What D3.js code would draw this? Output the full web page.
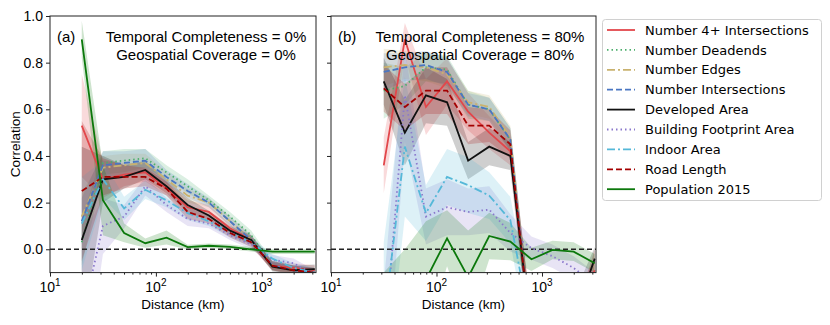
<!DOCTYPE html>
<html>
<head>
<meta charset="utf-8">
<script src="https://cdn.jsdelivr.net/npm/d3@7"></script>
<style>
  body { margin: 0; background: #fff; }
  svg { display: block; font-family: "Liberation Sans", Arial, sans-serif; }
</style>
</head>
<body>
<div id="chart"></div>
<script>
// distance bins (km)
var distances = [19.95, 31.62, 50.12, 79.43, 125.9, 199.5, 316.2, 501.2, 794.3, 1259, 1995, 3162];

var seriesNames = ["Number 4+ Intersections", "Number Deadends", "Number Edges", "Number Intersections",
  "Developed Area", "Building Footprint Area", "Indoor Area", "Road Length", "Population 2015"];

// panel (a): temporal completeness 0%, geospatial coverage 0%
var aNum4      = [0.53, 0.30, 0.32, 0.33, 0.26, 0.18, 0.16, 0.09, 0.04, -0.07, -0.08, -0.09];
var aDeadends  = [0.03, 0.37, 0.38, 0.39, 0.33, 0.27, 0.21, 0.14, 0.06, -0.07, -0.09, -0.10];
var aEdges     = [0.14, 0.35, 0.36, 0.37, 0.30, 0.23, 0.20, 0.12, 0.04, -0.07, -0.09, -0.10];
var aInters    = [0.12, 0.36, 0.37, 0.38, 0.31, 0.25, 0.20, 0.12, 0.04, -0.07, -0.09, -0.10];
var aDeveloped = [0.04, 0.30, 0.31, 0.34, 0.27, 0.19, 0.145, 0.08, 0.04, -0.075, -0.09, -0.085];
var aBuilding  = [-0.30, 0.10, 0.14, 0.27, 0.19, 0.13, 0.11, 0.06, 0.02, -0.045, -0.06, -0.11];
var aIndoor    = [0.11, 0.30, 0.175, 0.255, 0.21, 0.155, 0.12, 0.07, 0.03, -0.04, -0.08, -0.10];
var aRoad      = [0.25, 0.31, 0.31, 0.31, 0.26, 0.16, 0.13, 0.07, 0.03, -0.07, -0.09, -0.10];
var aPop       = [0.90, 0.21, 0.07, 0.026, 0.05, 0.009, 0.015, 0.01, 0.0, -0.01, -0.01, -0.01];

var aNum4Err      = [0.22, 0.08, 0.05, 0.04, 0.03, 0.03, 0.03, 0.02, 0.02, 0.02, 0.02, 0.02];
var aDeadendsErr  = [0.10, 0.05, 0.05, 0.04, 0.03, 0.03, 0.02, 0.02, 0.02, 0.02, 0.02, 0.02];
var aEdgesErr     = [0.10, 0.05, 0.05, 0.04, 0.03, 0.03, 0.02, 0.02, 0.02, 0.02, 0.02, 0.02];
var aIntersErr    = [0.10, 0.06, 0.05, 0.05, 0.03, 0.03, 0.02, 0.02, 0.02, 0.02, 0.02, 0.02];
var aDevelopedErr = [0.40, 0.10, 0.05, 0.04, 0.03, 0.03, 0.02, 0.02, 0.02, 0.02, 0.02, 0.02];
var aBuildingErr  = [0.35, 0.12, 0.05, 0.04, 0.03, 0.03, 0.02, 0.02, 0.02, 0.02, 0.02, 0.02];
var aIndoorErr    = [0.20, 0.08, 0.05, 0.04, 0.03, 0.03, 0.02, 0.02, 0.02, 0.02, 0.02, 0.02];
var aRoadErr      = [0.30, 0.08, 0.05, 0.04, 0.03, 0.03, 0.02, 0.02, 0.02, 0.02, 0.02, 0.02];
var aPopErr       = [0.08, 0.15, 0.04, 0.02, 0.03, 0.01, 0.01, 0.01, 0.01, 0.01, 0.01, 0.01];

// panel (b): temporal completeness 80%, geospatial coverage 80%
var bNum4      = [null, 0.36, 0.90, 0.61, 0.72, 0.59, 0.50, 0.42, -0.35, -0.40, -0.30, -0.09];
var bDeadends  = [null, 0.68, 0.70, 0.78, 0.77, 0.62, 0.60, 0.47, -0.40, -0.40, -0.40, -0.40];
var bEdges     = [null, 0.78, 0.79, 0.78, 0.75, 0.63, 0.61, 0.48, -0.40, -0.40, -0.40, -0.40];
var bInters    = [null, 0.76, 0.78, 0.79, 0.76, 0.62, 0.60, 0.47, -0.40, -0.40, -0.40, -0.40];
var bDeveloped = [null, 0.72, 0.50, 0.66, 0.63, 0.38, 0.44, 0.40, -0.37, -0.40, -0.30, -0.04];
var bBuilding  = [null, -0.45, 0.66, 0.14, 0.18, 0.16, 0.17, 0.07, 0.005, -0.03, -0.08, -0.15];
var bIndoor    = [null, -0.32, 0.44, 0.155, 0.31, 0.275, 0.23, 0.125, -0.35, -0.40, -0.40, -0.40];
var bRoad      = [null, 0.69, 0.61, 0.68, 0.68, 0.53, 0.53, 0.45, -0.40, -0.40, -0.40, -0.10];
var bPop       = [null, -0.30, -0.15, -0.13, 0.047, -0.12, 0.057, 0.033, -0.043, -0.003, -0.01, -0.06];

var bNum4Err      = [null, 0.12, 0.07, 0.12, 0.10, 0.08, 0.07, 0.06, 0.10, 0.10, 0.10, 0.05];
var bDeadendsErr  = [null, 0.12, 0.08, 0.06, 0.06, 0.06, 0.05, 0.05, 0.10, 0.10, 0.10, 0.10];
var bEdgesErr     = [null, 0.08, 0.06, 0.06, 0.06, 0.05, 0.05, 0.05, 0.10, 0.10, 0.10, 0.10];
var bIntersErr    = [null, 0.08, 0.06, 0.06, 0.06, 0.05, 0.05, 0.05, 0.10, 0.10, 0.10, 0.10];
var bDevelopedErr = [null, 0.10, 0.14, 0.12, 0.10, 0.08, 0.08, 0.06, 0.10, 0.10, 0.10, 0.05];
var bBuildingErr  = [null, 0.30, 0.20, 0.12, 0.12, 0.10, 0.10, 0.08, 0.05, 0.05, 0.05, 0.05];
var bIndoorErr    = [null, 0.35, 0.30, 0.12, 0.12, 0.12, 0.10, 0.10, 0.10, 0.10, 0.10, 0.10];
var bRoadErr      = [null, 0.10, 0.10, 0.10, 0.10, 0.08, 0.07, 0.06, 0.10, 0.10, 0.10, 0.10];
var bPopErr       = [null, 0.20, 0.15, 0.25, 0.12, 0.20, 0.10, 0.08, 0.05, 0.04, 0.04, 0.04];

var yTicks = [0.0, 0.2, 0.4, 0.6, 0.8, 1.0];
var xMajor = [10, 100, 1000];

// line styles, in legend order
var colors = ["#e2474b", "#4cae6c", "#c9b26f", "#4a76c2", "#111111", "#8a78cc", "#55b8d8", "#a30000", "#0b780b"];
var dashes = [null, "1.5,3", "8,3,2,3", "6,3", null, "1.5,3", "8,3,2,3", "6,3", null];

var panels = [
  { tag: "(a)", line1: "Temporal Completeness = 0%", line2: "Geospatial Coverage = 0%", left: 50, right: 316, cx: 206,
    means: [aNum4, aDeadends, aEdges, aInters, aDeveloped, aBuilding, aIndoor, aRoad, aPop],
    errs: [aNum4Err, aDeadendsErr, aEdgesErr, aIntersErr, aDevelopedErr, aBuildingErr, aIndoorErr, aRoadErr, aPopErr],
    yLabels: true },
  { tag: "(b)", line1: "Temporal Completeness = 80%", line2: "Geospatial Coverage = 80%", left: 331, right: 596, cx: 480,
    means: [bNum4, bDeadends, bEdges, bInters, bDeveloped, bBuilding, bIndoor, bRoad, bPop],
    errs: [bNum4Err, bDeadendsErr, bEdgesErr, bIntersErr, bDevelopedErr, bBuildingErr, bIndoorErr, bRoadErr, bPopErr],
    yLabels: false }
];

var W = 830, H = 325, plotTop = 16, plotBottom = 272.6;

var svg = d3.select("#chart").append("svg")
  .attr("width", W).attr("height", H);

var y = d3.scaleLinear().domain([-0.1, 1.0]).range([plotBottom, plotTop]);

panels.forEach(function(p, pi) {
  var x = d3.scaleLog().domain([10, 3250]).range([p.left, p.right]);
  var g = svg.append("g");

  g.append("clipPath").attr("id", "clip" + pi)
    .append("rect").attr("x", p.left).attr("y", plotTop)
    .attr("width", p.right - p.left).attr("height", plotBottom - plotTop);

  var plot = g.append("g").attr("clip-path", "url(#clip" + pi + ")");

  var area = d3.area()
    .defined(function(d) { return d.v != null; })
    .x(function(d) { return x(d.x); })
    .y0(function(d) { return y(d.v - d.e); })
    .y1(function(d) { return y(d.v + d.e); });

  var line = d3.line()
    .defined(function(d) { return d.v != null; })
    .x(function(d) { return x(d.x); })
    .y(function(d) { return y(d.v); });

  var rows = p.means.map(function(m, si) {
    return distances.map(function(dx, i) { return { x: dx, v: m[i], e: p.errs[si][i] }; });
  });

  rows.forEach(function(r, si) {
    plot.append("path").attr("d", area(r))
      .attr("fill", colors[si]).attr("fill-opacity", 0.2).attr("stroke", "none");
  });

  // zero reference line
  plot.append("line")
    .attr("x1", p.left).attr("x2", p.right)
    .attr("y1", y(0)).attr("y2", y(0))
    .attr("stroke", "#222").attr("stroke-width", 1.3).attr("stroke-dasharray", "5,3");

  rows.forEach(function(r, si) {
    plot.append("path").attr("d", line(r))
      .attr("fill", "none").attr("stroke", colors[si])
      .attr("stroke-width", 1.8)
      .attr("stroke-dasharray", dashes[si]);
  });

  // frame
  g.append("rect").attr("x", p.left).attr("y", plotTop)
    .attr("width", p.right - p.left).attr("height", plotBottom - plotTop)
    .attr("fill", "none").attr("stroke", "#222").attr("stroke-width", 1);

  // y axis
  var yAxis = d3.axisLeft(y).tickValues(yTicks).tickSize(4).tickPadding(3)
    .tickFormat(p.yLabels ? d3.format(".1f") : "");
  var ya = g.append("g").attr("transform", "translate(" + p.left + ",0)").call(yAxis);
  ya.select(".domain").remove();
  ya.attr("font-family", null).attr("font-size", null);
  ya.selectAll("text").style("font-size", "14px");
  ya.selectAll("line").attr("stroke", "#222");

  // x axis: minor and major ticks
  var minor = [];
  [10, 100, 1000].forEach(function(b) {
    for (var k = 2; k <= 9; k++) if (b * k <= 3250) minor.push(b * k);
  });
  var xm = g.append("g").attr("transform", "translate(0," + plotBottom + ")")
    .call(d3.axisBottom(x).tickValues(minor).tickSize(2).tickFormat(""));
  xm.select(".domain").remove();
  xm.selectAll("line").attr("stroke", "#222");

  var xa = g.append("g").attr("transform", "translate(0," + plotBottom + ")")
    .call(d3.axisBottom(x).tickValues(xMajor).tickSize(4).tickFormat(""));
  xa.select(".domain").remove();
  xa.selectAll("line").attr("stroke", "#222");

  xMajor.forEach(function(v) {
    var t = g.append("text").attr("x", x(v)).attr("y", plotBottom + 19)
      .attr("text-anchor", "middle").style("font-size", "14px");
    t.append("tspan").text("10");
    t.append("tspan").attr("dy", -6).style("font-size", "10px").text(Math.round(Math.log10(v)));
  });

  g.append("text").attr("x", (p.left + p.right) / 2).attr("y", plotBottom + 36)
    .attr("text-anchor", "middle").style("font-size", "13.5px").text("Distance (km)");

  // annotations
  g.append("text").attr("x", p.left + 7).attr("y", 42).style("font-size", "15px").text(p.tag);
  g.append("text").attr("x", p.cx).attr("y", 42).attr("text-anchor", "middle")
    .style("font-size", "15px").text(p.line1);
  g.append("text").attr("x", p.cx).attr("y", 60).attr("text-anchor", "middle")
    .style("font-size", "15px").text(p.line2);
});

svg.append("text")
  .attr("transform", "translate(20," + ((plotTop + plotBottom) / 2) + ") rotate(-90)")
  .attr("text-anchor", "middle").style("font-size", "13.5px").text("Correlation");

// legend
var leg = svg.append("g");
leg.append("rect").attr("x", 602.5).attr("y", 19.5).attr("width", 219).attr("height", 181)
  .attr("rx", 3).attr("fill", "#fff").attr("stroke", "#d0d0d0").attr("stroke-width", 1);

seriesNames.forEach(function(name, i) {
  var ly = 30 + i * 19.9;
  leg.append("line").attr("x1", 607).attr("x2", 635).attr("y1", ly).attr("y2", ly)
    .attr("stroke", colors[i]).attr("stroke-width", 1.8)
    .attr("stroke-dasharray", dashes[i]);
  leg.append("text").attr("x", 645).attr("y", ly + 4.6)
    .style("font-family", "'DejaVu Sans', sans-serif").style("font-size", "13px").text(name);
});
</script>
</body>
</html>
